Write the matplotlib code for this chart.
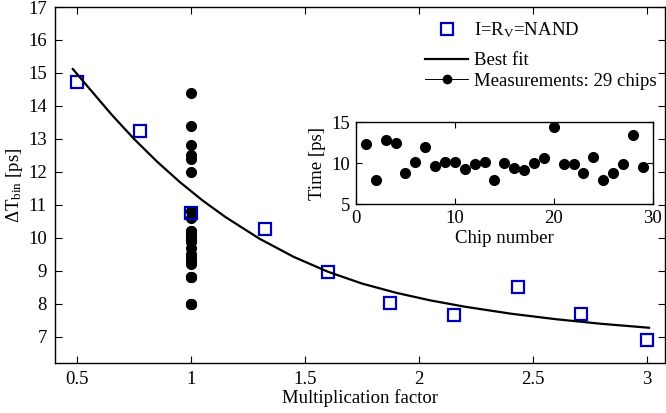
import matplotlib
matplotlib.use("Agg")
import matplotlib.pyplot as plt
from matplotlib.lines import Line2D

plt.rcParams['font.family'] = ['Liberation Serif', 'DejaVu Serif']
plt.rcParams['mathtext.fontset'] = 'custom'
plt.rcParams['mathtext.rm'] = 'Liberation Serif'
plt.rcParams['mathtext.it'] = 'Liberation Serif:italic'
plt.rcParams['font.size'] = 13.5

# Blue squares: I=R_V=NAND
nand_x = [0.5, 0.777, 1.0, 1.324, 1.602, 1.872, 2.155, 2.433, 2.713, 3.0]
nand_y = [14.74, 13.24, 10.75, 10.26, 8.95, 8.01, 7.66, 8.52, 7.68, 6.89]

# Best fit curve
fit_x = [0.48, 0.55, 0.65, 0.75, 0.85, 0.95, 1.05, 1.15, 1.3, 1.45, 1.6,
         1.75, 1.9, 2.05, 2.2, 2.4, 2.6, 2.8, 3.01]
fit_y = [15.12, 14.55, 13.74, 12.99, 12.31, 11.69, 11.13, 10.63, 9.97, 9.42,
         8.97, 8.61, 8.33, 8.10, 7.91, 7.70, 7.53, 7.39, 7.27]

# Measurements: 29 chips
chip_num = list(range(1, 30))
chip_time = [12.4, 8.0, 12.8, 12.5, 8.8, 10.1, 12.0, 9.7, 10.2, 10.1,
             9.3, 9.9, 10.2, 8.0, 10.0, 9.4, 9.2, 10.0, 10.6, 14.4,
             9.9, 9.9, 8.8, 10.8, 8.0, 8.8, 9.9, 13.4, 9.5]
meas_factor = 1.0

xticks = [0.5, 1, 1.5, 2, 2.5, 3]
xticklabels = ['0.5', '1', '1.5', '2', '2.5', '3']
yticks = [7, 8, 9, 10, 11, 12, 13, 14, 15, 16, 17]

blue = '#0000BB'

fig = plt.figure(figsize=(6.66, 4.13), dpi=100)
ax = fig.add_axes([0.0826, 0.1218, 0.9159, 0.8612])

ax.plot([meas_factor] * len(chip_time), chip_time, 'o', color='black',
        markersize=7, zorder=2)
ax.plot(nand_x, nand_y, 's', markerfacecolor='none', markeredgecolor=blue,
        markersize=8.5, markeredgewidth=1.6, zorder=3)
ax.plot(fit_x, fit_y, '-', color='black', linewidth=1.6, zorder=4)

ax.set_xlim(0.402, 3.08)
ax.set_ylim(6.21, 17)
ax.set_xticks(xticks)
ax.set_xticklabels(xticklabels)
ax.set_yticks(yticks)
ax.tick_params(direction='in', top=True, right=True, length=5, width=0.8, pad=6)
for s in ax.spines.values():
    s.set_linewidth(1.0)
ax.set_xlabel('Multiplication factor', labelpad=1)
ax.set_ylabel(r'$\Delta$T$_{\rm bin}$ [ps]', labelpad=2)

h_sq = Line2D([], [], linestyle='none', marker='s', markerfacecolor='none',
              markeredgecolor=blue, markersize=8, markeredgewidth=1.6)
h_fit = Line2D([], [], color='black', linewidth=1.6)
h_meas = Line2D([], [], color='black', linewidth=0.7, marker='o', markersize=6)

leg1 = ax.legend([h_sq], [r'I=R$_{\rm V}$=NAND'], loc='center left',
                 frameon=False, handlelength=2.3, handletextpad=0.3,
                 borderpad=0, borderaxespad=0,
                 bbox_to_anchor=(0.6066, 0.935))
ax.add_artist(leg1)
ax.legend([h_fit, h_meas], ['Best fit', 'Measurements: 29 chips'],
          loc='center left', frameon=False, handlelength=2.3,
          handletextpad=0.3, borderpad=0, borderaxespad=0, labelspacing=0.2,
          bbox_to_anchor=(0.6066, 0.820))

ins = fig.add_axes([0.5345, 0.5053, 0.4455, 0.1986])
ins.plot(chip_num, chip_time, 'o', color='black', markersize=7)
ins.set_xlim(0, 30)
ins.set_ylim(5, 15)
ins.set_xticks([0, 10, 20, 30])
ins.set_yticks([5, 10, 15])
ins.tick_params(direction='in', top=True, right=True, length=4, width=0.8, pad=4)
for s in ins.spines.values():
    s.set_linewidth(1.0)
ins.set_xlabel('Chip number', labelpad=2)
ins.set_ylabel('Time [ps]', labelpad=4)

fig.savefig('out.png', dpi=100)
